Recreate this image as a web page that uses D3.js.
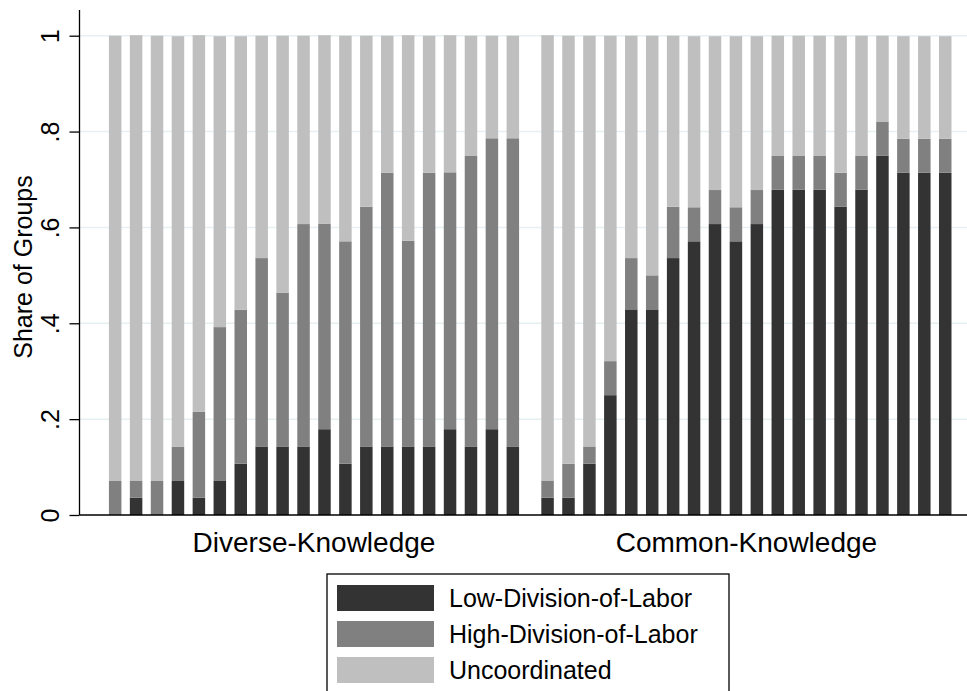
<!DOCTYPE html>
<html>
<head>
<meta charset="utf-8">
<script src="https://cdn.jsdelivr.net/npm/d3@7"></script>
<style>
  body { margin: 0; background: #fff; }
  text { font-family: "Liberation Sans", Arial, Helvetica, sans-serif; fill: #000; }
</style>
</head>
<body>
<svg id="chart" width="967" height="691"></svg>
<script>
// categories
const groups = ["Diverse-Knowledge", "Common-Knowledge"]
const series = ["Low-Division-of-Labor", "High-Division-of-Labor", "Uncoordinated"]
const colors = ["#333333", "#808080", "#bfbfbf"]
const yTicks = [0, 0.2, 0.4, 0.6, 0.8, 1]
const yTickLabels = ["0", ".2", ".4", ".6", ".8", "1"]

// shares, 20 bars per group
const diverseLow = [0, .036, 0, .071, .036, .071, .107, .143, .143, .143, .179, .107, .143, .143, .143, .143, .179, .143, .179, .143]
const diverseHigh = [.071, .036, .071, .071, .179, .321, .321, .393, .321, .464, .429, .464, .5, .571, .429, .571, .536, .607, .607, .643]
const diverseUnc = [.929, .929, .929, .857, .786, .607, .571, .464, .536, .393, .393, .429, .357, .286, .429, .286, .286, .25, .214, .214]

const commonLow = [.036, .036, .107, .25, .429, .429, .536, .571, .607, .571, .607, .679, .679, .679, .643, .679, .75, .714, .714, .714]
const commonHigh = [.036, .071, .036, .071, .107, .071, .107, .071, .071, .071, .071, .071, .071, .071, .071, .071, .071, .071, .071, .071]
const commonUnc = [.929, .893, .857, .679, .464, .5, .357, .357, .321, .357, .321, .25, .25, .25, .286, .25, .179, .214, .214, .214]

const width = 967
const height = 691

const svg = d3.select('#chart')

// y scale
const y = d3.scaleLinear([0, 1], [515, 35.7])

// group scale and bar scale inside each group
const x0 = d3.scaleBand(groups, [104.7, 955.7]).paddingInner(0.0319).paddingOuter(0)
const x1 = d3.scaleBand(d3.range(20), [0, x0.bandwidth()]).paddingInner(0.403).paddingOuter(0.2015)

function rows(low, high, unc) {
  return low.map((d, i) => ({ idx: i, [series[0]]: d, [series[1]]: high[i], [series[2]]: unc[i] }))
}
const tables = [
  rows(diverseLow, diverseHigh, diverseUnc),
  rows(commonLow, commonHigh, commonUnc)
]
const stack = d3.stack().keys(series)

// gridlines
svg.append('g')
  .selectAll('line')
  .data(yTicks.filter(t => t > 0))
  .join('line')
  .attr('x1', 80)
  .attr('x2', width)
  .attr('y1', d => y(d))
  .attr('y2', d => y(d))
  .attr('stroke', '#e6eff1')
  .attr('stroke-width', 1.5)

// bars
groups.forEach((g, gi) => {
  const layers = stack(tables[gi])
  svg.append('g')
    .attr('transform', `translate(${x0(g)},0)`)
    .selectAll('g')
    .data(layers)
    .join('g')
    .attr('fill', (d, i) => colors[i])
    .selectAll('rect')
    .data(d => d)
    .join('rect')
    .attr('x', d => x1(d.data.idx))
    .attr('width', x1.bandwidth())
    .attr('y', d => y(d[1]))
    .attr('height', d => y(d[0]) - y(d[1]))
})

// x baseline
svg.append('line')
  .attr('x1', 79.5)
  .attr('x2', width)
  .attr('y1', y(0))
  .attr('y2', y(0))
  .attr('stroke', '#000')
  .attr('stroke-width', 1.3)

// y axis
const yAxis = d3.axisLeft(y)
  .tickValues(yTicks)
  .tickFormat((d, i) => yTickLabels[i])
  .tickSize(10)
  .tickSizeOuter(0)
const ya = svg.append('g')
  .attr('transform', 'translate(79.5,0)')
  .call(yAxis)
ya.select('.domain').attr('d', `M0,10V${y(0)}`).attr('stroke-width', 1.3)
ya.selectAll('.tick line').attr('stroke-width', 1.3)
ya.selectAll('.tick text')
  .attr('x', null).attr('dy', null)
  .attr('transform', 'translate(-21,0) rotate(-90)')
  .attr('text-anchor', 'middle')
  .attr('font-size', 25)
  .attr('font-family', '"Liberation Sans", Arial, sans-serif')
  .attr('fill', '#000')

// y axis title
svg.append('text')
  .attr('transform', 'translate(32,267) rotate(-90)')
  .attr('text-anchor', 'middle')
  .attr('font-size', 25)
  .text('Share of Groups')

// group labels
svg.append('g')
  .selectAll('text')
  .data(groups)
  .join('text')
  .attr('x', d => x0(d) + x0.bandwidth() / 2)
  .attr('y', 552)
  .attr('text-anchor', 'middle')
  .attr('font-size', 28)
  .text(d => d)

// legend
const legend = svg.append('g')
legend.append('rect')
  .attr('x', 327)
  .attr('y', 574)
  .attr('width', 402)
  .attr('height', 140)
  .attr('fill', '#fff')
  .attr('stroke', '#000')
  .attr('stroke-width', 1.3)
const item = legend.selectAll('g')
  .data(series)
  .join('g')
  .attr('transform', (d, i) => `translate(337,${585 + i * 36})`)
item.append('rect')
  .attr('width', 97)
  .attr('height', 26)
  .attr('fill', (d, i) => colors[i])
item.append('text')
  .attr('x', 112)
  .attr('y', 22)
  .attr('font-size', 25)
  .text(d => d)
</script>
</body>
</html>
